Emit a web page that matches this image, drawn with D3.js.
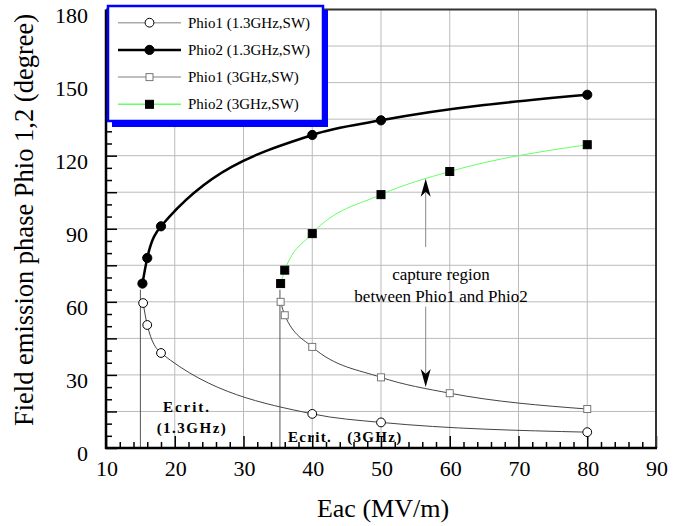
<!DOCTYPE html>
<html>
<head>
<meta charset="utf-8">
<script src="https://cdn.jsdelivr.net/npm/d3@7"></script>
<style>
  body { margin: 0; background: #fff; }
  text { font-family: "Liberation Serif", "Times New Roman", serif; }
</style>
</head>
<body>
<script>
// width and height
const w = 694;
const h = 526;

// data
const xTicks = [10, 20, 30, 40, 50, 60, 70, 80, 90];
const yTicks = [0, 30, 60, 90, 120, 150, 180];

const phio1_13 = [[15.4, 59.5], [16, 50.5], [18, 39], [40, 14], [50, 10.5], [80, 6.5]];
const phio2_13 = [[15.3, 67.5], [16, 78], [18, 91], [40, 128.5], [50, 134.5], [80, 145]];
const phio1_3 = [[35.4, 60], [36, 54.5], [40, 41.5], [50, 29], [60, 22.5], [80, 16]];
const phio2_3 = [[35.4, 67.5], [36, 73], [40, 88], [50, 104], [60, 113.5], [80, 124.5]];

const ecrit = [[15, 65], [35.3, 65]];   // Ecrit x, top of the marker line
const arrowX = 56.5;
const arrowUp = [82.5, 110.5];
const arrowDown = [58, 25];

const seriesNames = ["Phio1 (1.3GHz,SW)", "Phio2 (1.3GHz,SW)", "Phio1 (3GHz,SW)", "Phio2 (3GHz,SW)"];

const series = [
  {name: seriesNames[0], data: phio1_13, line: "#444", legLine: "#aaa", lw: 1, mark: "circle", fill: "#fff", stroke: "#000"},
  {name: seriesNames[1], data: phio2_13, line: "#000", legLine: "#000", lw: 2.5, mark: "circle", fill: "#000", stroke: "#000"},
  {name: seriesNames[2], data: phio1_3, line: "#444", legLine: "#aaa", lw: 1, mark: "square", fill: "#fff", stroke: "#777"},
  {name: seriesNames[3], data: phio2_3, line: "#66ff66", legLine: "#66ff66", lw: 1, mark: "square", fill: "#000", stroke: "#000"}
];

const svg = d3.select("body").append("svg")
  .attr("width", w)
  .attr("height", h);

const xScale = d3.scaleLinear().domain([10, 90]).range([106, 656]);
const yScale = d3.scaleLinear().domain([0, 180]).range([448, 9.5]);

// grid
svg.append("g").selectAll("line")
  .data(d3.range(20, 90, 10))
  .join("line")
  .attr("x1", d => xScale(d)).attr("x2", d => xScale(d))
  .attr("y1", yScale(0)).attr("y2", yScale(180))
  .attr("stroke", "#bbb").attr("stroke-width", 1);

svg.append("g").selectAll("line")
  .data(d3.range(15, 180, 15))
  .join("line")
  .attr("x1", xScale(10)).attr("x2", xScale(90))
  .attr("y1", d => yScale(d)).attr("y2", d => yScale(d))
  .attr("stroke", "#bbb").attr("stroke-width", 1);

// Ecrit lines
svg.append("g").selectAll("line")
  .data(ecrit)
  .join("line")
  .attr("x1", d => xScale(d[0])).attr("x2", d => xScale(d[0]))
  .attr("y1", yScale(0)).attr("y2", d => yScale(d[1]))
  .attr("stroke", "#555").attr("stroke-width", 1);

// axes (ticks inward)
const xAxis = d3.axisTop(xScale).tickValues(d3.range(10, 91, 2))
  .tickSize(6).tickFormat("");
const yAxis = d3.axisRight(yScale).tickValues(d3.range(0, 181, 5))
  .tickSize(6).tickFormat("");

const gx = svg.append("g").attr("transform", "translate(0," + yScale(0) + ")").call(xAxis);
gx.selectAll(".tick line").attr("stroke-width", 1.5)
  .attr("y2", d => d % 10 === 0 ? -12 : -6);
const gy = svg.append("g").attr("transform", "translate(" + xScale(10) + ",0)").call(yAxis);
gy.selectAll(".tick line").attr("stroke-width", 1.5)
  .attr("x2", d => d % 15 === 0 ? 11 : 6);
svg.selectAll(".domain").remove();

// frame
svg.append("line").attr("x1", xScale(10)).attr("x2", xScale(90))
  .attr("y1", yScale(180)).attr("y2", yScale(180)).attr("stroke", "#333").attr("stroke-width", 2);
svg.append("line").attr("x1", xScale(90)).attr("x2", xScale(90))
  .attr("y1", yScale(180)).attr("y2", yScale(0)).attr("stroke", "#333").attr("stroke-width", 2);
svg.append("line").attr("x1", xScale(10) - 1).attr("x2", xScale(90) + 1)
  .attr("y1", yScale(0)).attr("y2", yScale(0)).attr("stroke", "#000").attr("stroke-width", 2.5);
svg.append("line").attr("x1", xScale(10)).attr("x2", xScale(10))
  .attr("y1", yScale(180)).attr("y2", yScale(0) + 1).attr("stroke", "#000").attr("stroke-width", 2.5);

// tick labels
svg.append("g").selectAll("text")
  .data(xTicks)
  .join("text")
  .attr("x", d => xScale(d) + 1)
  .attr("y", 476)
  .attr("text-anchor", "middle")
  .attr("font-size", "22px")
  .text(d => d);

svg.append("g").selectAll("text")
  .data(yTicks)
  .join("text")
  .attr("x", 88)
  .attr("y", d => yScale(d) + 13)
  .attr("text-anchor", "end")
  .attr("font-size", "22px")
  .text(d => d);

// axis titles
svg.append("text")
  .attr("x", 383).attr("y", 517)
  .attr("text-anchor", "middle")
  .attr("font-size", "26px")
  .text("Eac (MV/m)");

svg.append("text")
  .attr("transform", "translate(33,220) rotate(-90)")
  .attr("text-anchor", "middle")
  .attr("font-size", "26.5px")
  .text("Field emission phase Phio 1,2 (degree)");

// curves
const line = d3.line()
  .x(d => xScale(d[0]))
  .y(d => yScale(d[1]))
  .curve(d3.curveMonotoneX);

function drawMarks(g, s, data) {
  if (s.mark === "circle") {
    g.selectAll("circle")
      .data(data)
      .join("circle")
      .attr("cx", d => xScale(d[0]))
      .attr("cy", d => yScale(d[1]))
      .attr("r", s.fill === "#000" ? 4.6 : 4.4)
      .attr("fill", s.fill)
      .attr("stroke", s.stroke)
      .attr("stroke-width", 1);
  } else {
    const sz = s.fill === "#000" ? 8 : 7;
    g.selectAll("rect")
      .data(data)
      .join("rect")
      .attr("x", d => xScale(d[0]) - sz / 2)
      .attr("y", d => yScale(d[1]) - sz / 2)
      .attr("width", sz)
      .attr("height", sz)
      .attr("fill", s.fill)
      .attr("stroke", s.stroke)
      .attr("stroke-width", 1);
  }
}

series.forEach(s => {
  svg.append("path")
    .datum(s.data)
    .attr("d", line)
    .attr("fill", "none")
    .attr("stroke", s.line)
    .attr("stroke-width", s.lw);
});
series.forEach(s => drawMarks(svg.append("g"), s, s.data));

// capture region arrows
function arrow(from, to) {
  const x = xScale(arrowX);
  const y1 = yScale(from), y2 = yScale(to);
  const dir = y2 < y1 ? 1 : -1;   // 1 = pointing up
  svg.append("line")
    .attr("x1", x).attr("x2", x)
    .attr("y1", y1).attr("y2", y2 + dir * 10)
    .attr("stroke", "#888").attr("stroke-width", 1);
  svg.append("path")
    .attr("d", "M" + x + "," + y2 +
      "L" + (x - 5) + "," + (y2 + dir * 18) +
      "L" + x + "," + (y2 + dir * 13) +
      "L" + (x + 5) + "," + (y2 + dir * 18) + "Z")
    .attr("fill", "#000");
}
arrow(arrowUp[0], arrowUp[1]);
arrow(arrowDown[0], arrowDown[1]);

svg.append("text")
  .attr("x", 441).attr("y", 280)
  .attr("text-anchor", "middle")
  .attr("font-size", "17px")
  .text("capture region");
svg.append("text")
  .attr("x", 441).attr("y", 302)
  .attr("text-anchor", "middle")
  .attr("font-size", "17px")
  .text("between Phio1 and Phio2");

// Ecrit labels
svg.append("text")
  .attr("x", 187).attr("y", 412)
  .attr("text-anchor", "middle")
  .attr("font-size", "15px").attr("font-weight", "bold")
  .attr("letter-spacing", "2px")
  .text("Ecrit.");
svg.append("text")
  .attr("x", 192).attr("y", 433)
  .attr("text-anchor", "middle")
  .attr("font-size", "15px").attr("font-weight", "bold")
  .attr("letter-spacing", "1.5px")
  .text("(1.3GHz)");
svg.append("text")
  .attr("x", 288).attr("y", 442)
  .attr("font-size", "15px").attr("font-weight", "bold")
  .attr("letter-spacing", "1.3px")
  .style("white-space", "pre")
  .text("Ecrit.   (3GHz)");

// legend
const leg = svg.append("g");
leg.append("rect")
  .attr("x", 112).attr("y", 10).attr("width", 216).attr("height", 117)
  .attr("fill", "#0000ff");
leg.append("rect")
  .attr("x", 108).attr("y", 6).attr("width", 215).attr("height", 115)
  .attr("fill", "#fff").attr("stroke", "#0000ff").attr("stroke-width", 2.5);

const rows = leg.selectAll("g.row")
  .data(series)
  .join("g")
  .attr("class", "row")
  .attr("transform", (d, i) => "translate(0," + (22.7 + i * 27.2) + ")");

rows.append("line")
  .attr("x1", 118).attr("x2", 181)
  .attr("stroke", d => d.legLine)
  .attr("stroke-width", d => d.lw === 1 ? 1.5 : 2.5);

rows.each(function(s) {
  const g = d3.select(this);
  if (s.mark === "circle") {
    g.append("circle").attr("cx", 149.5).attr("cy", 0)
      .attr("r", s.fill === "#000" ? 4.6 : 4.4)
      .attr("fill", s.fill).attr("stroke", s.stroke);
  } else {
    const sz = s.fill === "#000" ? 8 : 7;
    g.append("rect").attr("x", 149.5 - sz / 2).attr("y", -sz / 2)
      .attr("width", sz).attr("height", sz)
      .attr("fill", s.fill).attr("stroke", s.stroke);
  }
});

rows.append("text")
  .attr("x", 188).attr("y", 5)
  .attr("font-size", "15px")
  .text(d => d.name);
</script>
</body>
</html>
